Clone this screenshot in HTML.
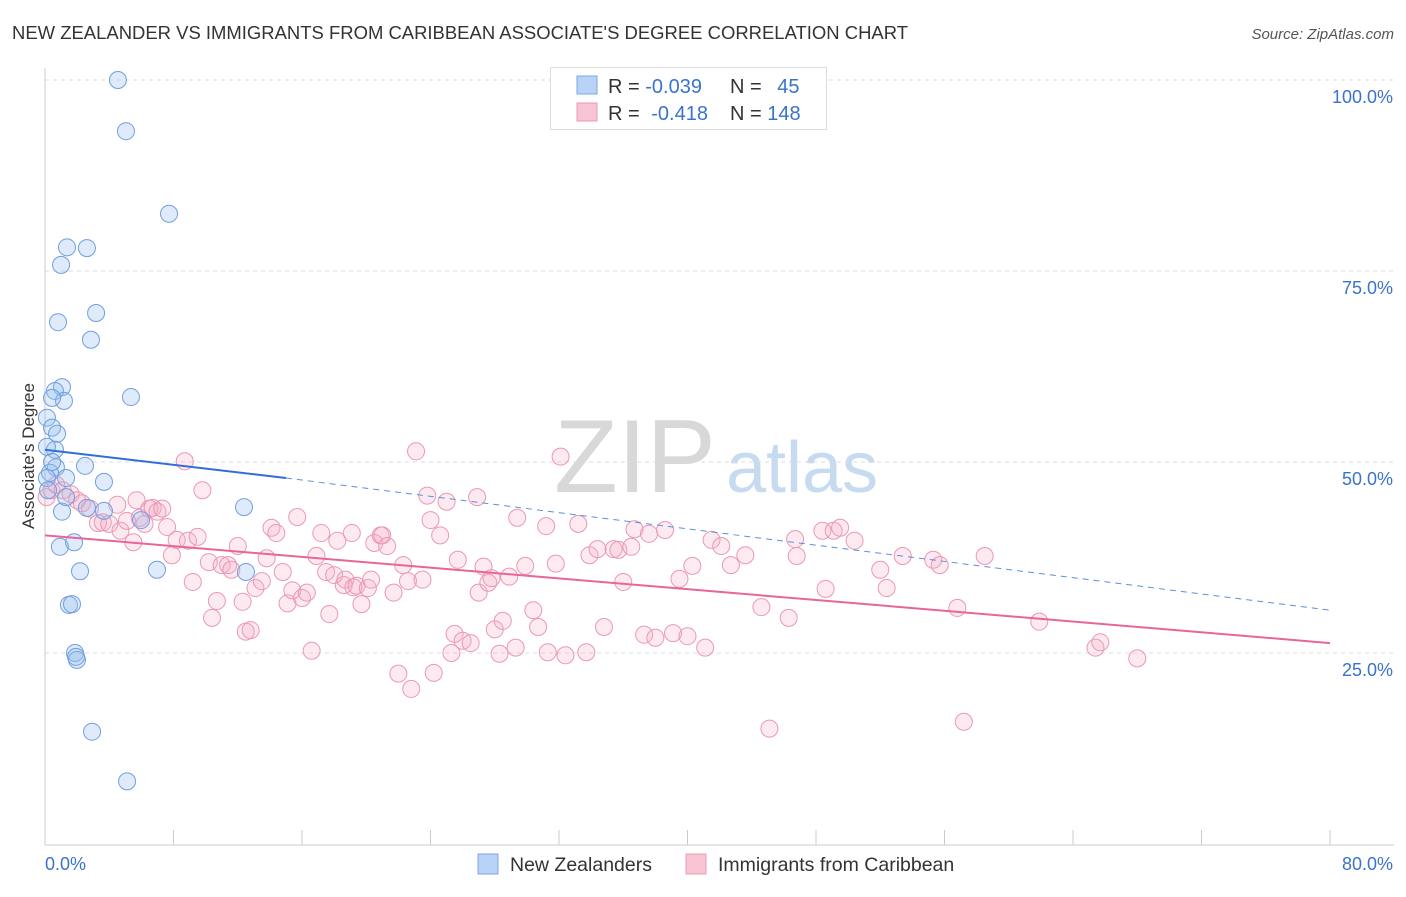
<!DOCTYPE html>
<html><head><meta charset="utf-8"><style>
body{margin:0;background:#fff;font-family:"Liberation Sans",sans-serif;}
svg text{font-family:"Liberation Sans",sans-serif;}
</style></head><body>
<svg id="chart" width="1406" height="892">
<text x="12" y="39" font-size="18.5" fill="#333" textLength="896" lengthAdjust="spacingAndGlyphs">NEW ZEALANDER VS IMMIGRANTS FROM CARIBBEAN ASSOCIATE'S DEGREE CORRELATION CHART</text>
<text x="1394" y="39" font-size="15" fill="#555" font-style="italic" text-anchor="end">Source: ZipAtlas.com</text>
<text x="635" y="492" font-size="104" fill="#d8d8d8" font-family="Liberation Serif" text-anchor="middle">ZIP</text>
<text x="802" y="492" font-size="72" fill="#c6daf0" text-anchor="middle">atlas</text>
<g id="grid"></g><g id="axes"></g><g id="pts"></g><g id="trends"></g>
<text x="34" y="456" font-size="17" fill="#333" text-anchor="middle" transform="rotate(-90 34 456)">Associate's Degree</text>
<g>
<rect x="550.5" y="67.5" width="276" height="62" fill="#fff" stroke="#ddd"/>
<rect x="577" y="76" width="20" height="18" fill="#b8d3f5" stroke="#7aa8e6"/>
<rect x="577" y="103" width="20" height="18" fill="#f8c3d3" stroke="#eb98b4"/>
<text x="608" y="93" font-size="20" fill="#333">R = <tspan fill="#3a73cc">-0.039</tspan></text>
<text x="730" y="93" font-size="20" fill="#333">N = <tspan dx="10" fill="#3a73cc">45</tspan></text>
<text x="608" y="120" font-size="20" fill="#333">R = <tspan dx="6" fill="#3a73cc">-0.418</tspan></text>
<text x="730" y="120" font-size="20" fill="#333">N = <tspan fill="#3a73cc">148</tspan></text>
</g>
<g>
<rect x="478" y="854" width="20" height="20" fill="#b8d3f5" stroke="#7aa8e6"/>
<text x="510" y="871" font-size="19.5" fill="#333">New Zealanders</text>
<rect x="686" y="854" width="20" height="20" fill="#f8c3d3" stroke="#eb98b4"/>
<text x="718" y="871" font-size="19.5" fill="#333">Immigrants from Caribbean</text>
</g>
</svg>
<script>
const blueX=[4.54,5.04,7.72,1.37,2.61,1.0,3.18,0.81,2.86,1.06,0.62,1.18,0.44,5.35,0.12,0.44,0.75,0.62,0.12,0.68,2.49,0.31,0.12,1.31,3.67,12.39,1.06,2.61,3.67,5.98,0.93,1.81,6.97,12.51,2.18,1.49,1.68,1.87,1.99,1.93,2.93,5.11,1.31,0.19,0.44];
const blueY=[100,93.3,82.5,78.1,78.0,75.8,69.5,68.3,66.0,59.8,59.3,58.0,58.4,58.5,55.8,54.5,53.7,51.6,52.0,49.3,49.5,48.6,47.9,47.9,47.4,44.1,43.5,44.0,43.6,42.4,38.9,39.5,35.9,35.6,35.7,31.3,31.4,25.0,24.1,24.5,14.7,8.2,45.4,46.3,50.0];
const pinkX=[0.1,0.4,0.7,1.1,1.6,2.0,2.3,2.8,3.3,3.6,4.0,4.5,4.7,5.1,5.5,5.7,5.9,6.2,6.5,6.7,7.0,7.3,7.6,7.9,8.2,8.7,8.9,9.2,9.5,9.8,10.2,10.4,10.7,11.0,11.4,11.6,12.0,12.3,12.5,12.8,13.1,13.5,13.8,14.1,14.4,14.8,15.1,15.4,15.7,16.0,16.3,16.6,16.9,17.2,17.5,17.7,18.0,18.2,18.6,18.7,19.1,19.2,19.4,19.7,20.1,20.3,20.5,20.9,21.0,21.3,21.7,22.0,22.3,22.6,22.8,23.1,23.5,23.8,24.0,24.2,24.6,25.0,25.3,25.5,25.7,26.0,26.5,26.9,27.0,27.3,27.6,27.8,28.0,28.3,28.5,28.9,29.3,29.4,29.9,30.4,30.7,31.2,31.3,31.8,32.1,32.4,33.2,33.7,33.9,34.4,34.8,35.4,35.7,36.0,36.5,36.7,37.3,37.6,38.0,38.6,39.1,39.5,40.0,40.3,41.1,41.5,42.1,42.7,43.6,44.6,45.1,46.3,46.7,46.8,48.6,48.4,49.1,49.5,50.4,52.0,52.4,53.4,55.3,55.7,56.8,57.2,58.5,61.9,65.4,65.7,68.0];
const pinkY=[45.4,46.3,47.0,46.3,45.8,45.0,44.6,43.9,42.0,42.1,41.9,44.4,41.0,42.3,39.5,45.0,42.7,41.9,43.9,44.0,43.5,43.9,41.5,37.8,39.8,50.1,39.7,34.3,40.2,46.3,36.9,29.6,31.8,36.5,36.5,35.9,39.0,31.7,27.8,28.0,33.5,34.4,37.4,41.4,40.7,35.6,31.5,33.2,42.8,32.2,32.9,25.3,37.7,40.7,35.6,30.1,35.2,39.7,33.9,34.6,40.7,33.6,33.8,31.4,33.5,34.6,39.4,40.4,40.4,39.0,32.9,22.3,36.5,34.4,20.3,51.4,34.6,45.6,42.4,22.4,40.4,44.8,25.0,27.5,37.2,26.6,26.3,45.4,32.9,36.3,34.2,34.8,28.1,24.9,29.2,35.0,25.7,42.7,36.4,30.6,28.4,41.6,25.1,36.7,50.7,24.7,41.9,25.1,37.8,38.6,28.4,38.6,38.5,34.3,38.9,41.2,27.4,40.6,27.0,41.1,27.6,34.7,27.2,36.4,25.7,39.8,39.0,36.5,37.8,31.0,15.1,29.6,39.9,37.7,33.4,41.0,41.0,41.4,39.7,35.9,33.5,37.7,37.2,36.5,30.9,16.0,37.7,29.1,25.7,26.4,24.3];
const blueTrendX=[0,15,80];
const blueTrendY=[51.6,47.9,30.6];
const pinkTrendX=[0,80];
const pinkTrendY=[40.4,26.3];
const yTicks=[25,50,75,100];
const yTickLabels=["25.0%","50.0%","75.0%","100.0%"];
const xTicks=[0,8,16,24,32,40,48,56,64,72,80];

const NS="http://www.w3.org/2000/svg";
const X=v=>45+v/80*1285;
const Y=v=>844-v/100*764;
function mk(tag,attrs,parent){const e=document.createElementNS(NS,tag);for(const k in attrs)e.setAttribute(k,attrs[k]);document.getElementById(parent).appendChild(e);return e;}
yTicks.forEach((t,i)=>{
  const l=mk('line',{x1:45,x2:1394,y1:Y(t),y2:Y(t),stroke:'#ddd','stroke-dasharray':'4,4'},'grid');
  
  
  const tx=mk('text',{x:1393,y:Y(t)+23,'font-size':18,fill:'#3a73cc','text-anchor':'end'},'grid');
  tx.textContent=yTickLabels[i];
  
  
});
const ax=mk('line',{x1:45,x2:45,y1:68,y2:845,stroke:'#ccc'},'axes');


const bx=mk('line',{x1:45,x2:1394,y1:845,y2:845,stroke:'#ccc'},'axes');


xTicks.forEach(t=>{
  const l=mk('line',{x1:X(t),x2:X(t),y1:830,y2:845,stroke:'#ccc'},'axes');
  
  
});
const xl0=mk('text',{x:45,y:870,'font-size':18,fill:'#3a73cc'},'axes');xl0.textContent="0.0%";


const xl1=mk('text',{x:1393,y:870,'font-size':18,fill:'#3a73cc','text-anchor':'end'},'axes');xl1.textContent="80.0%";


pinkX.forEach((x,i)=>{
  const c=mk('circle',{cx:X(x),cy:Y(pinkY[i]),r:8.5,fill:'rgba(244,170,194,0.25)',stroke:'#eb98b4','stroke-width':1},'pts');
  
  
});
blueX.forEach((x,i)=>{
  const c=mk('circle',{cx:X(x),cy:Y(blueY[i]),r:8.5,fill:'rgba(150,190,240,0.3)',stroke:'#6f9fe0','stroke-width':1},'pts');
  
  
});
const b1=mk('line',{x1:X(blueTrendX[0]),y1:Y(blueTrendY[0]),x2:X(blueTrendX[1]),y2:Y(blueTrendY[1]),stroke:'#2f6fd6','stroke-width':2},'trends');


const b2=mk('line',{x1:X(blueTrendX[1]),y1:Y(blueTrendY[1]),x2:X(blueTrendX[2]),y2:Y(blueTrendY[2]),stroke:'#5b8fdc','stroke-width':1,'stroke-dasharray':'6,5'},'trends');


const p1=mk('line',{x1:X(pinkTrendX[0]),y1:Y(pinkTrendY[0]),x2:X(pinkTrendX[1]),y2:Y(pinkTrendY[1]),stroke:'#e8659a','stroke-width':2},'trends');


</script>
</body></html>
